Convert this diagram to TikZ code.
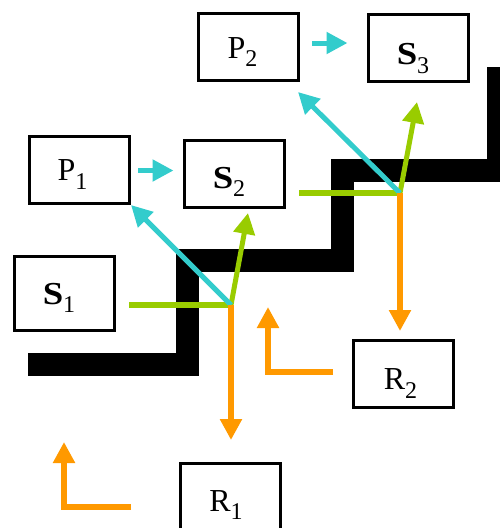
\documentclass[tikz,border=0pt]{standalone}
\usepackage{fontspec}
\setmainfont{Liberation Serif}
\usetikzlibrary{arrows.meta,positioning}

\definecolor{raycyan}{HTML}{33CCCC}
\definecolor{raygreen}{HTML}{99CC00}
\definecolor{rayorange}{HTML}{FF9900}

% letter, subscript, space after, vertical shift
\newcommand{\lbl}[4]{\raisebox{#4}{#1\raisebox{-8.5pt}{\fontsize{24}{24}\selectfont #2}}\hspace*{#3}}
\newcommand{\bS}{\scalebox{1.15}[1]{\textbf{S}}}

\tikzset{
    box/.style={draw, line width=3pt, minimum width=100pt, minimum height=67pt,
                inner sep=0pt, text height=21pt, text depth=0pt,
                font=\fontsize{32}{34}\selectfont},
    wall/.style={line width=23pt, line join=miter},
    tip/.style={-{Triangle[length=21pt,width=21pt]}},
    cyanray/.style={tip, raycyan, line width=5pt},
    greenray/.style={tip, raygreen, line width=5pt},
    greenline/.style={raygreen, line width=6.5pt},
    orangeray/.style={tip, rayorange, line width=5.5pt},
    orangeleg/.style={tip, rayorange, line width=6.5pt, line join=miter}
}

\begin{document}
\begin{tikzpicture}[x=1pt,y=-1pt]
    \useasboundingbox (0,0) rectangle (500,528);
    \clip (0,0) rectangle (500,528);

    % Staircase
    \draw[wall] (28,364) -- (187.5,364) -- (187.5,260.5) -- (342.5,260.5)
                -- (342.5,170) -- (498.5,170) -- (498.5,67);

    % Boxes
    \node[box] (P2) at (248.5,46.5) {\lbl{P}{2}{12pt}{-1pt}};
    \node[box] (S3) at (418,48)     {\lbl{\bS}{3}{10pt}{-6pt}};
    \node[box] (P1) at (79.5,170)   {\lbl{P}{1}{14pt}{0pt}};
    \node[box] (S2) at (234,173.5)  {\lbl{\bS}{2}{10pt}{-4pt}};
    \node[box, minimum height=74pt] (S1) at (64,293.5) {\lbl{\bS}{1}{10pt}{0pt}};
    \node[box] (R2) at (403.5,374)  {\lbl{R}{2}{6pt}{-5pt}};
    \node[box] (R1) at (230,497)    {\lbl{R}{1}{8pt}{-3.5pt}};

    % Reflection points and free ends
    \coordinate (hit1) at (231,305);
    \coordinate (hit2) at (400,193);
    \coordinate (in1)  at (129,305);
    \coordinate (in2)  at (299,193);
    \coordinate (up1)  at (248,213);
    \coordinate (up2)  at (417,102);
    \coordinate (back2) at (298,92);

    % Incoming rays
    \draw[greenline] (in1) -- (hit1);
    \draw[greenline] (in2) -- (hit2);

    % Transmitted rays
    \draw[greenray] (hit1) -- (up1);
    \draw[greenray] (hit2) -- (up2);

    % Reflected rays
    \draw[cyanray] (hit1) -- (P1.south east);
    \draw[cyanray] (hit2) -- (back2);
    \draw[cyanray, shorten <=7pt, shorten >=9pt] (P1.east |- 0,170.5) -- (S2.west |- 0,170.5);
    \draw[cyanray, shorten <=12pt, shorten >=19pt] (P2.east |- 0,43) -- (S3.west |- 0,43);

    % Rays down to receivers
    \draw[orangeray, shorten >=22pt] (hit1) -- (hit1 |- R1.north);
    \draw[orangeray, shorten >=8pt]  (hit2) -- (hit2 |- R2.north);

    % Corner marks
    \draw[orangeleg] (333,372) -- (268,372) -- (268,307);
    \draw[orangeleg] (131,507) -- (64,507) -- (64,442);
\end{tikzpicture}
\end{document}
